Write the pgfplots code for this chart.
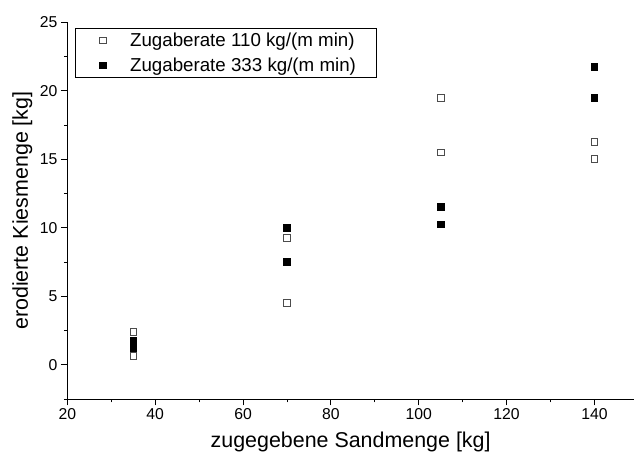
\documentclass[border=0pt]{standalone}
\usepackage{fontspec}
\setmainfont{Liberation Sans}
\usepackage{pgfplots}
\pgfplotsset{compat=1.18}

% eroded gravel vs. added sand, two feed rates
\pgfplotstableread{
x    y
35   2.41
35   0.64
70   9.27
70   4.53
105  19.49
105  15.50
140  16.28
140  15.01
}\lowrate
\pgfplotstableread{
x    y
35   1.75
35   1.20
70   10.00
70   7.50
105  11.51
105  10.25
140  21.75
140  19.49
}\highrate

\newcommand{\legtext}[1]{\makebox[242bp][l]{#1}}

\begin{document}
\begin{tikzpicture}
\begin{axis}[
  scale only axis,
  width=566.6bp, height=376.6bp,
  xmin=20, xmax=149,
  ymin=-2.5, ymax=25,
  axis lines*=left,
  axis line style={line width=0.9bp, black},
  xtick={20,40,...,140},
  minor xtick={30,50,...,130},
  ytick={0,5,...,25},
  minor ytick={-2.5,2.5,...,22.5},
  tick align=outside,
  major tick length=6.5bp,
  minor tick length=3.5bp,
  every tick/.style={line width=0.9bp, black},
  /pgf/number format/assume math mode=true,
  tick label style={font=\fontsize{15.8}{18}\selectfont},
  xlabel={zugegebene Sandmenge [kg]},
  ylabel={erodierte Kiesmenge [kg]},
  label style={font=\fontsize{21.5}{24}\selectfont},
  xlabel style={at={([yshift=-43bp]axis description cs:0.5,0)}, anchor=center},
  ylabel style={at={([xshift=-45bp]axis description cs:0,0.5)}, anchor=center},
  legend style={
    at={([xshift=7.7bp,yshift=-5.8bp]axis description cs:0,1)},
    anchor=north west,
    draw=black, line width=0.7bp,
    font=\fontsize{18.8}{21}\selectfont,
    cells={anchor=west},
    row sep=6bp,
    inner xsep=2bp, inner ysep=2.5bp,
  },
  legend image code/.code={
    \path (0bp,0bp) (50bp,0bp);
    \draw[mark repeat=2,mark phase=2,#1]
      plot coordinates {(0bp,0bp) (25bp,0bp) (50bp,0bp)};
  },
  clip=false,
]
\addplot[only marks, mark=square*, mark size=3.3bp,
         mark options={draw=black!70, fill=white, line width=0.8bp}]
  table[x=x, y=y] {\lowrate};
\addlegendentry{\legtext{Zugaberate 110 kg/(m min)}}
\addplot[only marks, mark=square*, mark size=3.3bp,
         mark options={draw=black, fill=black, line width=0.8bp}]
  table[x=x, y=y] {\highrate};
\addlegendentry{\legtext{Zugaberate 333 kg/(m min)}}
\end{axis}
\pgfresetboundingbox
\path ([shift={(-67.3bp,-60.1bp)}]current axis.south west)
  rectangle ([shift={(0bp,22.3bp)}]current axis.north east);
\end{tikzpicture}
\end{document}
